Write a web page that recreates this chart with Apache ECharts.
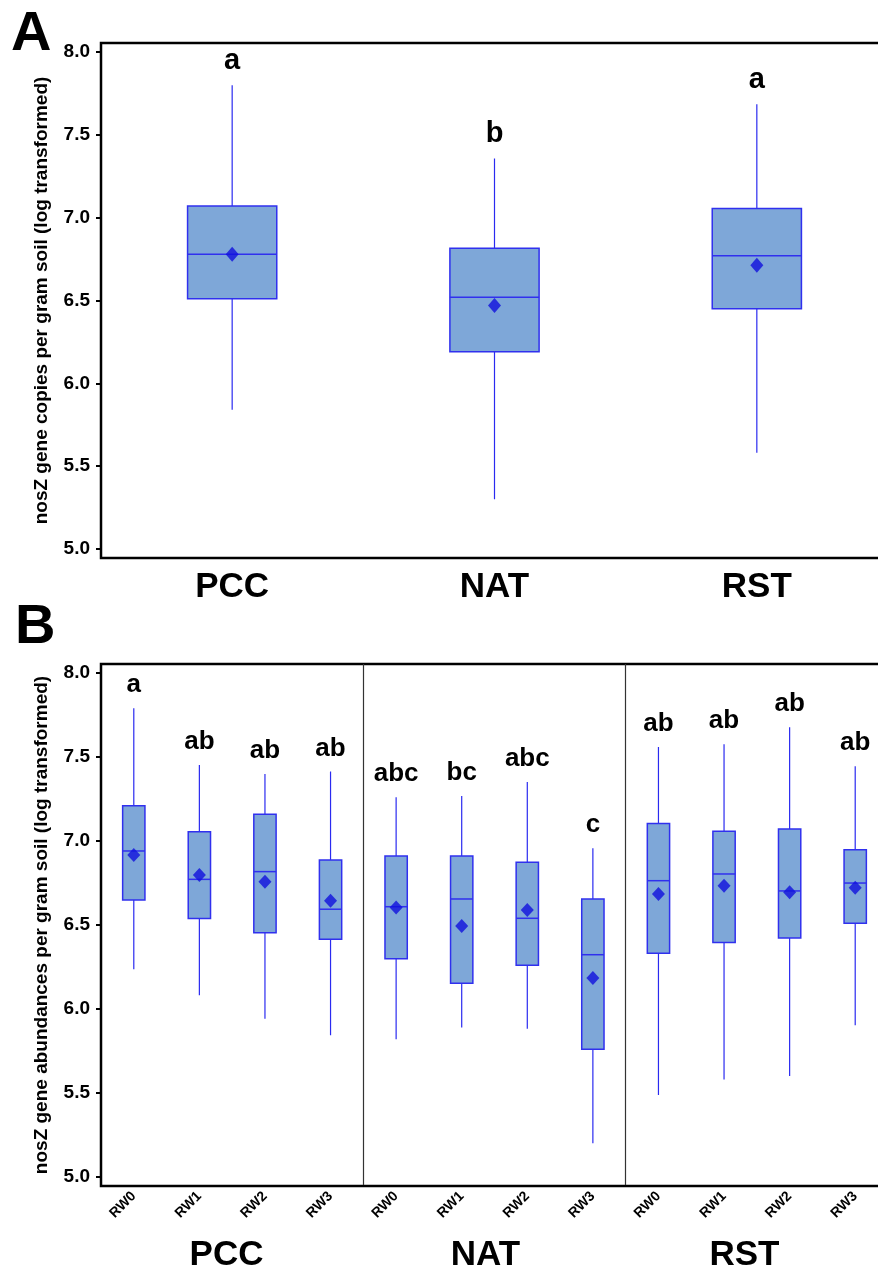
<!DOCTYPE html>
<html><head><meta charset="utf-8">
<script src="https://cdn.jsdelivr.net/npm/echarts@6/dist/echarts.min.js"></script>
<style>html,body{margin:0;padding:0;background:#fff}#c{width:878px;height:1274px}</style>
</head><body><div id="c"></div>
<script>
// ---------- data ----------
const sites = ['PCC', 'NAT', 'RST'];
const yTicks = [5.0, 5.5, 6.0, 6.5, 7.0, 7.5, 8.0];

// Panel A (per site)
const aLow  = [5.84, 5.30, 5.58];
const aQ1   = [6.51, 6.19, 6.45];
const aMed  = [6.78, 6.52, 6.77];
const aQ3   = [7.07, 6.815, 7.056];
const aHigh = [7.80, 7.357, 7.685];
const aMean = [6.78, 6.47, 6.713];
const aLetters = ['a', 'b', 'a'];

// Panel B (site x rewetting)
const bCats = ['RW0','RW1','RW2','RW3','RW0','RW1','RW2','RW3','RW0','RW1','RW2','RW3'];
const bLow  = [6.236, 6.081, 5.942, 5.843, 5.819, 5.890, 5.882, 5.199, 5.487, 5.580, 5.600, 5.902];
const bQ1   = [6.649, 6.538, 6.454, 6.415, 6.299, 6.153, 6.260, 5.759, 6.331, 6.395, 6.423, 6.510];
const bMed  = [6.941, 6.772, 6.818, 6.594, 6.609, 6.655, 6.540, 6.323, 6.764, 6.804, 6.703, 6.750];
const bQ3   = [7.211, 7.056, 7.160, 6.887, 6.911, 6.911, 6.874, 6.655, 7.104, 7.058, 7.072, 6.949];
const bHigh = [7.791, 7.454, 7.400, 7.414, 7.261, 7.269, 7.352, 6.957, 7.561, 7.577, 7.678, 7.446];
const bMean = [6.917, 6.798, 6.758, 6.645, 6.605, 6.494, 6.589, 6.184, 6.685, 6.734, 6.695, 6.722];
const bLetters = ['a','ab','ab','ab','abc','bc','abc','c','ab','ab','ab','ab'];

// ---------- style ----------
const FONT = '"Liberation Sans", Arial, sans-serif';
const boxFill = '#7ea7d8';
const boxStroke = '#3030ee';
const whiskerColor = '#2a2af0';
const meanColor = '#1010dd';

function boxRenderer(letters, fontSize, offset) {
  return function (params, api) {
    const i = api.value(0);
    const low = api.coord([i, api.value(1)]);
    const q1 = api.coord([i, api.value(2)]);
    const med = api.coord([i, api.value(3)]);
    const q3 = api.coord([i, api.value(4)]);
    const high = api.coord([i, api.value(5)]);
    const w = api.size([1, 0])[0] * 0.34;
    const x = low[0];
    return {
      type: 'group',
      children: [
        { type: 'line', shape: { x1: x, y1: high[1], x2: x, y2: low[1] },
          style: { stroke: whiskerColor, lineWidth: 1.2 } },
        { type: 'rect', shape: { x: x - w / 2, y: q3[1], width: w, height: q1[1] - q3[1] },
          style: { fill: boxFill, stroke: boxStroke, lineWidth: 1.5 } },
        { type: 'line', shape: { x1: x - w / 2, y1: med[1], x2: x + w / 2, y2: med[1] },
          style: { stroke: boxStroke, lineWidth: 1.5 } },
        { type: 'text', x: x, y: high[1] - offset,
          style: { text: letters[params.dataIndex], fill: '#000', fontSize: fontSize,
                   fontWeight: 'bold', fontFamily: FONT, align: 'center', verticalAlign: 'bottom' } }
      ]
    };
  };
}

function yAxisCfg(gridIndex, name) {
  return {
    gridIndex, type: 'value', min: 4.945, max: 8.055,
    name, nameLocation: 'middle', nameGap: 50,
    nameTextStyle: { fontSize: 19, fontWeight: 'bold', color: '#000', fontFamily: FONT },
    axisLine: { show: true, lineStyle: { color: '#000', width: 2 } },
    axisTick: { show: true, length: 5, customValues: yTicks, lineStyle: { color: '#000', width: 2 } },
    axisLabel: { customValues: yTicks, formatter: v => Number(v).toFixed(1), fontSize: 19,
                 fontWeight: 'bold', color: '#000', fontFamily: FONT, margin: 11 },
    splitLine: { show: false }
  };
}

const chart = echarts.init(document.getElementById('c'), null, { renderer: 'canvas' });
chart.setOption({
  animation: false,
  backgroundColor: '#fff',
  title: [
    { text: 'A', left: 11, top: 7, padding: 0,
      textStyle: { fontSize: 56, fontWeight: 'bold', color: '#000', fontFamily: FONT } },
    { text: 'B', left: 15, top: 600, padding: 0,
      textStyle: { fontSize: 56, fontWeight: 'bold', color: '#000', fontFamily: FONT } }
  ],
  grid: [
    { left: 101, top: 43, width: 787, height: 515, show: true, borderColor: '#000', borderWidth: 2.5,
      outerBoundsMode: 'none', containLabel: false },
    { left: 101, top: 664, width: 787, height: 522, show: true, borderColor: '#000', borderWidth: 2.5,
      outerBoundsMode: 'none', containLabel: false },
    { left: 97, top: 664, width: 777, height: 522, outerBoundsMode: 'none', containLabel: false }
  ],
  xAxis: [
    { gridIndex: 0, type: 'category', data: sites,
      axisLine: { lineStyle: { color: '#000', width: 2 } },
      axisTick: { alignWithLabel: true, length: 5, lineStyle: { color: '#000', width: 2 } },
      axisLabel: { fontSize: 35, fontWeight: 'bold', color: '#000', fontFamily: FONT, margin: 12 } },
    { gridIndex: 1, type: 'category', data: bCats,
      axisLine: { lineStyle: { color: '#000', width: 2 } },
      axisTick: { alignWithLabel: true, length: 5, interval: 0, lineStyle: { color: '#000', width: 2 } },
      axisLabel: { rotate: 45, interval: 0, fontSize: 14, fontWeight: 'bold', color: '#000',
                   fontFamily: FONT, margin: 8 },
      splitLine: { show: true, interval: (i) => i === 4 || i === 8,
                   lineStyle: { color: '#333', width: 1.2 } } },
    { gridIndex: 2, type: 'category', data: sites,
      axisLine: { show: false }, axisTick: { show: false },
      axisLabel: { fontSize: 35, fontWeight: 'bold', color: '#000', fontFamily: FONT, margin: 52 } }
  ],
  yAxis: [
    yAxisCfg(0, 'nosZ gene copies per gram soil (log transformed)'),
    yAxisCfg(1, 'nosZ gene abundances per gram soil (log transformed)'),
    { gridIndex: 2, type: 'value', show: false, min: 4.945, max: 8.055 }
  ],
  series: [
    { type: 'custom', xAxisIndex: 0, yAxisIndex: 0,
      renderItem: boxRenderer(aLetters, 29, 10),
      encode: { x: 0, y: [1, 2, 3, 4, 5] },
      data: sites.map((_, i) => [i, aLow[i], aQ1[i], aMed[i], aQ3[i], aHigh[i]]) },
    { type: 'scatter', xAxisIndex: 0, yAxisIndex: 0, symbol: 'diamond', symbolSize: [13, 15],
      itemStyle: { color: meanColor }, z: 5,
      data: aMean.map((v, i) => [i, v]) },
    { type: 'custom', xAxisIndex: 1, yAxisIndex: 1,
      renderItem: boxRenderer(bLetters, 26, 10),
      encode: { x: 0, y: [1, 2, 3, 4, 5] },
      data: bCats.map((_, i) => [i, bLow[i], bQ1[i], bMed[i], bQ3[i], bHigh[i]]) },
    { type: 'scatter', xAxisIndex: 1, yAxisIndex: 1, symbol: 'diamond', symbolSize: [13, 14],
      itemStyle: { color: meanColor }, z: 5,
      data: bMean.map((v, i) => [i, v]) }
  ]
});
</script>
</body></html>
